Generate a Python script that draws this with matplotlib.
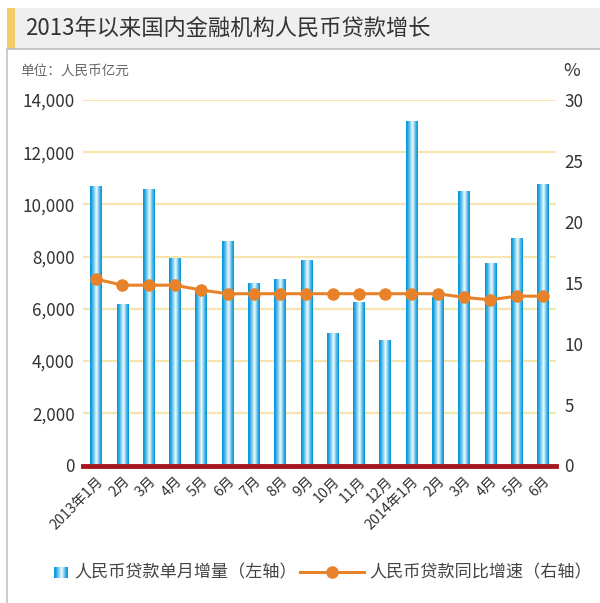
import numpy as np
import matplotlib.pyplot as plt
from matplotlib.colors import LinearSegmentedColormap
from matplotlib.patches import Rectangle
from matplotlib.lines import Line2D

plt.rcParams['font.family'] = ['Noto Sans CJK SC', 'DejaVu Sans']

# data
months = ['2013年1月', '2月', '3月', '4月', '5月', '6月', '7月', '8月', '9月',
          '10月', '11月', '12月', '2014年1月', '2月', '3月', '4月', '5月', '6月']
loan_increase = [10700, 6200, 10600, 7929, 6674, 8605, 6999, 7132, 7870,
                 5064, 6245, 4825, 13200, 6445, 10500, 7747, 8708, 10800]
loan_growth = [15.3, 14.8, 14.8, 14.8, 14.4, 14.1, 14.1, 14.1, 14.1,
               14.1, 14.1, 14.1, 14.1, 14.1, 13.8, 13.6, 13.9, 13.9]
left_ticks = [0, 2000, 4000, 6000, 8000, 10000, 12000, 14000]
right_ticks = [0, 5, 10, 15, 20, 25, 30]

blue = '#0094D9'
orange = '#E8822A'
grad = LinearSegmentedColormap.from_list(
    'bar', [(0, blue), (0.15, '#22A6E2'), (0.55, '#F4FBFE'), (0.85, '#35AEE5'), (1, blue)])
gvals = np.linspace(0, 1, 64).reshape(1, -1)

fig = plt.figure(figsize=(6, 6.03), dpi=100)
W, H = 600, 603

def fx(px):
    return px / W

def fy(py):
    return 1 - py / H

# title band
fig.patches.append(Rectangle((fx(7), fy(48.5)), 1, 40 / H, transform=fig.transFigure,
                             facecolor='#EFEFEF', edgecolor='none'))
fig.patches.append(Rectangle((fx(7), fy(48.5)), 8 / W, 40 / H, transform=fig.transFigure,
                             facecolor='#F5CB67', edgecolor='none'))
fig.add_artist(Line2D([fx(7), 1], [fy(48.5), fy(48.5)], transform=fig.transFigure,
                      color='#BDBDBD', lw=1.2))
fig.add_artist(Line2D([fx(7.3), fx(7.3)], [fy(48.5), 0], transform=fig.transFigure,
                      color='#C4C4C4', lw=1.2))
fig.text(fx(25), fy(29), '2013年以来国内金融机构人民币贷款增长', fontsize=16,
         color='#333333', va='center', ha='left')
fig.text(fx(20), fy(71), '单位：人民币亿元', fontsize=9.8, color='#666666', va='center')
fig.text(fx(563), fy(71), '%', fontsize=13, color='#333333', va='center')

ax = fig.add_axes([fx(83), fy(465.5), 473 / W, 365.5 / H])
ax2 = ax.twinx()

x = np.arange(len(months))
w = 0.44
for xi, v in zip(x, loan_increase):
    b = ax.bar(xi, v, width=w, color='none', edgecolor='none')[0]
    im = ax.imshow(gvals, cmap=grad, aspect='auto', extent=(xi - w / 2, xi + w / 2, 0, v),
                   zorder=2, interpolation='bilinear')
    im.set_clip_path(b)

for t in left_ticks[1:]:
    ax.axhline(t, color='#F8E4AE', lw=1.6, zorder=1)
ax.axhline(0, color='#A5171D', lw=3.5, zorder=3, clip_on=False)

ax.set_xlim(-0.5, len(months) - 0.5)
ax.set_ylim(0, 14000)
ax.set_yticks(left_ticks)
ax.set_yticklabels([f'{t:,}' for t in left_ticks])
ax.set_xticks(x)
ax.set_xticklabels(months, rotation=45, ha='right', rotation_mode='anchor')
ax.tick_params(axis='y', length=0, pad=6, labelsize=12.3, labelcolor='#333333')
ax.tick_params(axis='x', length=0, pad=6, labelsize=10.3, labelcolor='#333333')

ax2.plot(x, loan_growth, color=orange, lw=2.2, marker='o', ms=8, zorder=4)
ax2.set_ylim(0, 30)
ax2.set_yticks(right_ticks)
ax2.tick_params(axis='y', length=0, pad=6, labelsize=12.3, labelcolor='#333333')

for a in (ax, ax2):
    for s in a.spines.values():
        s.set_visible(False)

# legend
lax = fig.add_axes([fx(54), fy(578), 14 / W, 11 / H])
lax.imshow(gvals, cmap=grad, aspect='auto', interpolation='bilinear')
lax.axis('off')
fig.text(fx(74), fy(572), '人民币贷款单月增量（左轴）', fontsize=12.3, color='#444444', va='center')
fig.add_artist(Line2D([fx(300), fx(364)], [fy(572), fy(572)], transform=fig.transFigure,
                      color=orange, lw=2.2))
fig.add_artist(Line2D([fx(332)], [fy(572)], transform=fig.transFigure,
                      color=orange, marker='o', ms=8))
fig.text(fx(369), fy(572), '人民币贷款同比增速（右轴）', fontsize=12.3, color='#444444', va='center')

fig.savefig('out.png', dpi=100)
